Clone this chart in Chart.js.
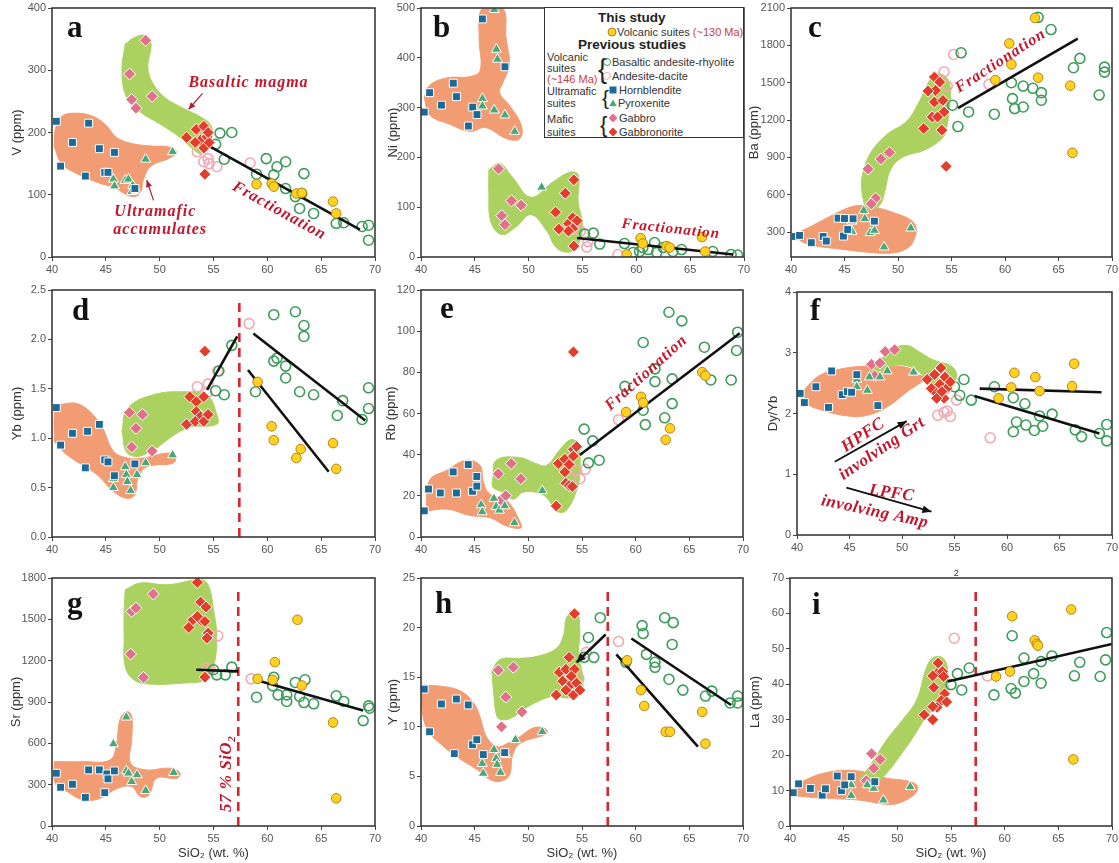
<!DOCTYPE html>
<html>
<head>
<meta charset="utf-8">
<script src="https://cdn.jsdelivr.net/npm/chart.js@4.4.1/dist/chart.umd.min.js"></script>
<style>
  body { margin: 0; background: #fff; }
  #wrap { position: relative; width: 1119px; height: 863px; overflow: hidden; font-family: Arial, "Liberation Sans", sans-serif; }
  #wrap canvas { position: absolute; }
  #lbox { position: absolute; left: 544px; top: 7px; width: 200px; height: 131px; border: 1.5px solid #333; background: #fff; box-sizing: border-box; }
  .lt { position: absolute; white-space: nowrap; line-height: 1; transform: translateY(-50%); font-size: 11px; color: #333; }
  .hd { font-size: 13.5px; font-weight: bold; color: #222; }
  .br { font-weight: 300; color: #222; }
  .red { color: #c9413a; }
  .mk { position: absolute; transform: translate(-50%, -50%); box-sizing: border-box; }
</style>
</head>
<body>
<div id="wrap">
  <div id="lbox"></div>
  <div class="lt hd" style="left:598px;top:18px">This study</div>
  <div class="mk" style="left:612px;top:32px;width:9px;height:9px;border-radius:50%;background:#ffd21f;border:1px solid #b8801a"></div>
  <div class="lt" style="left:617px;top:32px">Volcanic suites <span class="red">(~130 Ma)</span></div>
  <div class="lt hd" style="left:578px;top:45px">Previous studies</div>
  <div class="lt" style="left:547px;top:57px">Volcanic</div>
  <div class="lt" style="left:547px;top:68px">suites</div>
  <div class="lt red" style="left:547px;top:79px">(~146 Ma)</div>
  <div class="lt br" style="left:598px;top:69px;font-size:27px">{</div>
  <div class="mk" style="left:607px;top:62px;width:8px;height:8px;border-radius:50%;border:1.3px solid #3c9c5a"></div>
  <div class="lt" style="left:612px;top:62px">Basaltic andesite-rhyolite</div>
  <div class="mk" style="left:607px;top:76px;width:8px;height:8px;border-radius:50%;border:1.3px solid #f2a9b3"></div>
  <div class="lt" style="left:612px;top:76px">Andesite-dacite</div>
  <div class="lt" style="left:547px;top:91px">Ultramafic</div>
  <div class="lt" style="left:547px;top:103px">suites</div>
  <div class="lt br" style="left:602px;top:97px;font-size:21px">{</div>
  <div class="mk" style="left:613px;top:90px;width:7px;height:7px;background:#1b6a98"></div>
  <div class="lt" style="left:619px;top:90px">Hornblendite</div>
  <div class="mk" style="left:613px;top:103px;width:8px;height:7px;background:#47a97a;clip-path:polygon(50% 0,100% 100%,0 100%)"></div>
  <div class="lt" style="left:618px;top:103px">Pyroxenite</div>
  <div class="lt" style="left:547px;top:119px">Mafic</div>
  <div class="lt" style="left:547px;top:132px">suites</div>
  <div class="lt br" style="left:600px;top:125px;font-size:22px">{</div>
  <div class="mk" style="left:613px;top:118px;width:9px;height:9px;background:#e3708a;clip-path:polygon(50% 0,100% 50%,50% 100%,0 50%)"></div>
  <div class="lt" style="left:619px;top:118px">Gabbro</div>
  <div class="mk" style="left:613px;top:132px;width:9px;height:9px;background:#e33d2b;clip-path:polygon(50% 0,100% 50%,50% 100%,0 50%)"></div>
  <div class="lt" style="left:619px;top:132px">Gabbronorite</div>
</div>
<script>
// ---------- data: [SiO2, value] pairs ----------
// panel a  V (ppm)
const aVolc = [[59.0,117],[60.4,118],[60.6,113],[62.7,102],[63.2,103],[66.1,89],[66.4,70]];
const aBar = [[55.2,181],[55.6,199],[56.0,157],[56.7,200],[59.0,133],[59.9,158],[60.9,145],[61.7,153],[60.6,132],[61.7,110],[63.4,134],[62.6,97],[63.0,78],[63.2,102],[64.3,70],[66.4,54],[67.1,55],[68.8,49],[69.4,51],[69.4,27]];
const aAd = [[53.5,169],[54.1,153],[54.5,158],[54.6,150],[55.3,145],[58.4,151]];
const aHbl = [[40.4,218],[40.8,146],[41.9,184],[43.1,130],[43.4,215],[44.4,174],[44.9,136],[45.2,136],[45.8,168],[47.7,110]];
const aPyx = [[48.7,157],[51.2,169],[45.7,125],[45.8,114],[46.8,123],[47.1,125],[47.4,105],[47.8,107],[47.5,115]];
const aGab = [[48.7,348],[47.2,294],[47.4,253],[47.8,239],[49.3,258]];
const aGbn = [[52.5,192],[53.4,205],[54.1,210],[53.8,188],[53.3,184],[54.4,193],[54.1,175],[54.6,184],[54.5,200],[54.2,133]];
const aTrend = [[54.1,183],[68.6,44]];
const aOrange = [[40.2,177],[40.3,205],[40.9,226],[42.3,231],[43.8,226],[45,212],[46,192],[47.5,182],[49.5,178],[50.8,177],[51.6,168],[50.8,158],[49.2,146],[48.5,125],[48.2,103],[47.4,97],[45.7,112],[44.5,118],[42.3,134],[40.9,150]];
const aGreen = [[46.8,342],[47.6,352],[48.6,356],[49.2,343],[48.9,305],[49.4,278],[50.5,256],[52.3,238],[53.8,225],[54.8,210],[54.7,186],[53.9,166],[53.2,172],[51.9,192],[50,214],[48.2,233],[46.9,258],[46.5,300]];

// panel b  Ni (ppm)
const bVolc = [[59.1,5],[60.4,38],[60.6,27],[62.8,22],[63.1,19],[66.1,40],[66.4,11]];
const bBar = [[55.2,46],[56.0,48],[56.6,26],[58.9,27],[59.7,9],[60.3,11],[60.6,19],[61.1,15],[61.7,29],[61.9,9],[62.5,19],[63.4,11],[64.2,15],[67.1,11],[68.8,5],[69.4,4]];
const bAd = [[54.8,52],[55.4,20],[55.5,31],[58.3,5]];
const bHbl = [[40.3,291],[40.8,330],[41.9,305],[43.0,349],[43.3,322],[44.4,263],[44.8,301],[45.2,286],[45.7,478],[47.8,382]];
const bPyx = [[46.8,497],[47.0,417],[47.1,397],[45.7,318],[45.7,303],[46.8,295],[47.8,285],[48.7,252],[51.2,140]];
const bGab = [[47.2,177],[47.5,83],[47.8,65],[48.4,113],[49.3,104]];
const bGbn = [[52.5,90],[53.4,128],[54.2,155],[52.8,56],[53.7,67],[54.1,79],[54.5,73],[54.1,57],[54.2,22],[53.7,52]];
const bTrend = [[54.5,38],[69.0,5]];
const bOrange = [[40.3,320],[40.8,345],[42.5,360],[44.5,362],[45.5,375],[45.4,440],[45.7,500],[47.6,500],[47.9,440],[48.2,385],[47.6,350],[47.3,330],[48.2,305],[49.3,265],[49.2,238],[48,237],[46,260],[44.6,252],[42.5,268],[40.8,285]];
const bGreen = [[46.3,175],[47.3,188],[48.5,160],[50.2,120],[52.2,150],[53.8,170],[54.6,165],[54.6,110],[55,65],[54.6,25],[53.8,10],[52.6,18],[51.6,55],[50.2,85],[48.8,60],[47.5,45],[46.5,70],[46.3,130]];

// panel c  Ba (ppm)
const cVolc = [[62.8,2020],[60.4,1815],[60.6,1647],[59.1,1521],[63.1,1540],[66.1,1476],[66.3,937]];
const cBar = [[55.9,1740],[55.1,1319],[55.6,1148],[56.6,1265],[59.0,1247],[60.6,1500],[60.7,1372],[60.9,1292],[61.7,1473],[61.7,1305],[62.6,1455],[63.4,1420],[63.4,1359],[63.1,2025],[64.3,1927],[66.4,1620],[67.0,1695],[68.8,1401],[69.3,1625],[69.3,1585]];
const cAd = [[55.2,1727],[54.3,1588],[54.6,1473],[58.5,1487]];
const cHbl = [[40.4,265],[40.8,273],[41.9,215],[43.0,265],[43.3,228],[44.4,412],[44.9,268],[45.0,409],[45.3,321],[45.8,407],[47.8,388]];
const cPyx = [[46.8,473],[46.9,407],[45.7,388],[45.7,305],[47.4,295],[47.8,313],[48.7,180],[51.2,332]];
const cGab = [[47.2,807],[47.9,572],[47.5,527],[48.4,887],[49.2,940]];
const cGbn = [[53.4,1545],[53.9,1505],[53.5,1438],[52.8,1433],[53.4,1345],[54.2,1358],[54.3,1265],[53.2,1225],[53.7,1225],[52.4,1132],[54.1,1119],[54.5,828]];
const cTrend = [[55.6,1295],[66.8,1855]];
const cOrange = [[40.4,287],[41.5,330],[43.5,420],[45.2,490],[46.3,513],[47.8,500],[49.8,450],[51.3,390],[51.7,327],[51.4,220],[50.8,167],[49.5,132],[47,140],[44.5,165],[42.1,193],[40.8,235]];
const cGreen = [[46.9,500],[46.6,650],[46.7,767],[47.4,930],[48.9,1080],[50.8,1190],[52,1350],[52.9,1510],[53.6,1570],[54.5,1545],[54.9,1450],[54.8,1300],[54.5,1120],[54.1,1050],[52.5,960],[50.4,900],[49.3,800],[48.8,640],[48.4,530],[47.6,480]];
const cTicks = [300,600,900,1200,1500,1800,2100];

// panel d  Yb (ppm)
const dVolc = [[59.1,1.57],[60.4,1.12],[60.6,0.98],[62.7,0.80],[63.1,0.89],[66.1,0.95],[66.4,0.69]];
const dBar = [[55.2,1.48],[56.0,1.44],[55.5,1.68],[56.7,1.94],[58.9,1.47],[60.6,2.25],[62.6,2.28],[63.4,2.14],[63.4,2.03],[60.6,1.78],[60.9,1.81],[61.7,1.73],[61.7,1.61],[63.0,1.47],[64.3,1.44],[67.0,1.38],[66.5,1.23],[68.8,1.19],[69.4,1.51],[69.4,1.30]];
const dAd = [[53.5,1.52],[54.5,1.55],[54.4,1.46],[55.4,1.68],[58.3,2.16]];
const dHbl = [[40.4,1.31],[40.8,0.93],[41.9,1.05],[43.1,0.70],[43.3,1.07],[44.4,1.14],[44.9,0.78],[45.2,0.76],[45.8,0.62],[47.7,0.74]];
const dPyx = [[45.7,0.59],[45.7,0.50],[46.8,0.71],[46.9,0.63],[47.0,0.56],[47.3,0.47],[47.9,0.63],[48.7,0.75],[51.2,0.83]];
const dGab = [[47.2,1.26],[48.4,1.24],[47.8,1.10],[47.4,0.91],[49.3,0.87]];
const dGbn = [[52.8,1.42],[53.4,1.37],[54.1,1.42],[53.4,1.27],[53.8,1.22],[52.5,1.14],[53.3,1.17],[54.1,1.17],[54.5,1.24],[54.2,1.88]];
const dTrend1 = [[54.4,1.49],[57.2,2.03]];
const dTrend2 = [[58.7,2.06],[69.1,1.18]];
const dTrend3 = [[58.2,1.69],[65.7,0.66]];
const dLimit = [[57.4,0],[57.4,2.38]];
const dOrange = [[40.2,0.97],[40.3,1.3],[40.8,1.34],[42.6,1.34],[44.5,1.14],[45.7,0.87],[47,0.8],[48.5,0.80],[50.7,0.85],[51.4,0.82],[51.3,0.75],[48.8,0.71],[48,0.6],[47.7,0.43],[47,0.39],[45.7,0.46],[44.2,0.63],[41.4,0.83]];
const dGreen = [[46.5,1.07],[47,1.30],[49.4,1.44],[52.5,1.47],[54.4,1.44],[55.3,1.24],[55.3,1.14],[52.5,1.10],[48.5,0.83],[47,0.85]];

// panel e  Rb (ppm)
const eVolc = [[59.1,60.7],[60.5,68.1],[60.7,65.3],[62.8,47.2],[63.2,52.8],[66.2,80.1],[66.5,78.4]];
const eBar = [[55.2,52.4],[56.0,46.7],[55.6,36.0],[56.6,37.3],[59.0,73.2],[60.7,94.5],[60.7,61.6],[60.9,54.6],[61.8,81.7],[61.8,75.5],[63.1,109.2],[64.3,105.0],[63.4,64.8],[63.4,76.8],[62.7,57.9],[66.4,92.2],[67.0,76.3],[68.9,76.3],[69.5,99.5],[69.4,90.6]];
const eAd = [[54.5,32.4],[55.3,32.9],[54.8,28.3],[58.4,57.0]];
const eHbl = [[40.3,12.7],[40.7,23.3],[41.8,21.4],[43.0,31.6],[43.3,21.4],[44.4,35.2],[44.8,22.2],[45.2,29.4],[45.2,24.7]];
const ePyx = [[45.6,15.6],[45.7,12.2],[46.8,18.7],[47.0,14.8],[47.3,13.0],[47.8,15.1],[48.7,6.9],[51.3,22.5]];
const eGab = [[47.2,30.7],[48.4,35.7],[49.3,28.3],[47.4,17.9],[47.9,20.1]];
const eGbn = [[52.8,35.7],[53.4,37.8],[53.4,31.6],[53.8,35.2],[54.2,42.6],[54.5,43.9],[54.2,39.3],[53.5,26.1],[53.8,25.0],[54.1,24.5],[52.6,15.1],[54.2,89.9]];
const eTrend = [[54.8,39.8],[69.7,99.0]];
const eOrange = [[40.5,12.7],[40.8,27.5],[42.4,32.4],[44.2,37.3],[45.5,34.8],[45.8,27],[46.4,20.9],[48,17.6],[49.2,7.7],[49.3,4.4],[48,5.3],[46.4,9.4],[44.5,10.5],[42.5,13.5]];
const eGreen = [[46.7,29],[47.0,37.3],[49.2,38.6],[50.7,35.7],[51.7,34.8],[52.9,42.2],[53.9,47.2],[54.6,45.9],[54.8,40.6],[54.8,32.4],[54.6,24.2],[53.5,12.7],[52.6,12.7],[51.7,19.2],[50.7,21.7],[49.5,21.7],[48.6,18.4],[47.5,22],[46.7,24.2]];

// panel f  Dy/Yb
const fVolc = [[59.2,2.25],[60.4,2.43],[60.7,2.67],[62.7,2.60],[63.1,2.37],[66.2,2.45],[66.4,2.82]];
const fBar = [[55.0,2.44],[55.9,2.56],[55.5,2.30],[56.6,2.22],[58.8,2.44],[60.6,2.26],[60.6,1.70],[61.7,2.16],[60.9,1.86],[61.8,1.81],[62.6,1.72],[63.1,1.96],[63.4,1.79],[64.3,1.99],[66.5,1.73],[67.1,1.62],[68.8,1.67],[69.5,1.82],[69.5,1.55]];
const fAd = [[53.4,1.97],[54.3,2.04],[54.6,1.95],[54.0,2.02],[55.2,2.22],[58.4,1.60]];
const fHbl = [[40.3,2.33],[40.7,2.18],[41.8,2.44],[43.3,2.70],[43.0,2.10],[44.3,2.31],[44.8,2.36],[45.2,2.35],[45.7,2.64],[47.7,2.13]];
const fPyx = [[45.7,2.56],[45.7,2.44],[46.7,2.38],[46.9,2.60],[47.9,2.60],[48.6,2.70],[51.1,2.68]];
const fGab = [[47.1,2.81],[47.9,2.83],[47.4,2.62],[48.4,3.02],[49.3,3.05]];
const fGbn = [[53.7,2.75],[52.4,2.56],[53.1,2.64],[54.1,2.60],[53.6,2.48],[52.8,2.41],[54.3,2.42],[53.3,2.33],[54.0,2.25],[53.3,2.25],[54.6,2.52],[53.8,2.36]];
const fTrend1 = [[57.4,2.41],[69.0,2.35]];
const fTrend2 = [[56.9,2.29],[68.8,1.67]];
const fOrange = [[40.5,2.36],[42.2,2.63],[44.4,2.74],[46.7,2.78],[49.2,2.78],[50.8,2.74],[51.7,2.63],[52.4,2.60],[50.5,2.36],[48.6,2.11],[46.7,1.97],[44.8,1.96],[42.5,2.05],[41,2.16]];
const fGreen = [[47.1,2.71],[47.9,2.88],[49.2,3.07],[50.5,3.12],[51.7,3.01],[53.0,2.88],[54.6,2.79],[55.2,2.66],[55.0,2.52],[54.2,2.3],[53.2,2.45],[52,2.63],[50.8,2.77],[49.2,2.79],[47.6,2.68]];

// panel g  Sr (ppm)
const gVolc = [[59.1,1068],[60.5,1061],[60.7,1189],[62.8,1497],[63.2,1020],[66.1,751],[66.4,201]];
const gBar = [[55.0,1134],[55.3,1097],[56.1,1097],[56.7,1153],[59.0,935],[60.6,1080],[60.5,1017],[61.0,952],[61.8,904],[61.8,952],[62.6,1042],[63.0,940],[63.4,896],[63.5,1061],[64.3,887],[66.4,945],[67.1,904],[68.9,765],[69.4,872],[69.5,855]];
const gAd = [[55.4,1381],[54.4,1146],[54.7,1134],[58.5,1068]];
const gHbl = [[40.4,383],[40.8,281],[41.9,303],[43.1,208],[43.4,407],[44.4,407],[45.1,378],[45.2,342],[44.9,242],[45.8,400]];
const gPyx = [[46.9,790],[45.7,596],[46.9,400],[47.1,383],[47.4,322],[47.9,371],[48.7,257],[51.3,388]];
const gGab = [[47.4,1558],[47.8,1582],[49.4,1684],[47.3,1248],[48.5,1078]];
const gGbn = [[53.5,1768],[53.8,1625],[54.3,1589],[52.7,1441],[53.1,1497],[53.8,1497],[54.2,1485],[54.5,1400],[54.4,1364],[54.2,1080],[53.5,1521]];
const gTrend1 = [[53.4,1134],[57.3,1122]];
const gTrend2 = [[59.2,1054],[68.9,838]];
const gLimit = [[57.3,0],[57.3,1710]];
const gOrange = [[40.2,467],[42.9,467],[45.4,480],[46,600],[46.3,770],[46.96,831],[47.4,795],[47.4,625],[47.3,455],[48.8,407],[50.4,419],[51.3,414],[51.9,383],[51.6,346],[49.7,346],[49,225],[48.2,213],[47.4,286],[46,270],[44.5,201],[42.9,189],[41.4,250],[40.3,310]];
const gGreen = [[46.8,1715],[48.2,1764],[50.7,1751],[53.8,1788],[54.5,1751],[55,1570],[55.3,1376],[55,1158],[54.2,1061],[52.2,1037],[49.1,1030],[47.6,1061],[46.8,1158],[46.7,1376],[46.7,1570]];

// panel h  Y (ppm)
const hVolc = [[59.2,16.7],[60.5,13.7],[60.8,12.1],[62.8,9.5],[63.2,9.5],[66.2,11.5],[66.5,8.3]];
const hBar = [[55.6,19.0],[56.1,17.0],[55.2,17.0],[56.7,21.0],[59.1,16.5],[60.6,20.2],[60.7,19.4],[61.0,17.3],[61.8,16.5],[61.8,16.0],[62.7,21.0],[63.5,20.5],[63.4,18.3],[63.1,14.8],[64.4,13.7],[66.5,13.1],[67.1,13.6],[68.8,12.4],[69.5,13.1],[69.5,12.4]];
const hAd = [[55.4,17.5],[58.4,18.6],[54.7,14.9]];
const hHbl = [[40.3,13.8],[40.8,9.5],[41.9,12.3],[43.1,7.3],[43.3,12.8],[44.4,12.2],[44.8,8.2],[45.2,8.7],[45.8,7.2],[47.8,7.4]];
const hPyx = [[45.7,6.3],[45.8,5.3],[46.8,7.7],[47.0,6.8],[47.1,6.2],[47.4,5.4],[47.9,7.2],[48.8,8.7],[51.3,9.5]];
const hGab = [[47.2,15.7],[48.6,16.0],[47.9,13.0],[49.4,11.5],[47.5,10.0]];
const hGbn = [[54.3,21.4],[53.8,17.0],[52.9,15.5],[53.5,15.8],[54.3,15.8],[54.0,15.1],[53.2,14.6],[53.8,14.1],[54.5,14.4],[53.5,13.7],[52.6,13.2],[54.2,13.2],[54.8,13.7]];
const hTrend1 = [[57.2,19.3],[54.5,16.5]];
const hTrend2 = [[59.6,18.9],[68.9,12.2]];
const hTrend3 = [[58.2,17.3],[65.8,8.0]];
const hLimit = [[57.4,0],[57.4,23.75]];
const hOrange = [[40.1,14.2],[41.8,14.1],[43.7,13.6],[44.9,12.4],[45.5,11.0],[46.1,9.0],[47.1,8.0],[48.0,8.3],[49.2,9.0],[50.5,9.9],[51.6,9.8],[51.7,9.3],[49.2,8.3],[48.5,7.0],[48.3,5.3],[47.7,4.6],[46.6,4.6],[45.2,5.7],[43.3,7.0],[41.8,8.3],[40.6,9.7],[40.1,11.8]];
const hGreen = [[46.6,15.7],[47.4,16.8],[49.2,16.9],[50.8,17.1],[52.6,17.9],[53.3,19.3],[53.6,21.1],[54.5,21.5],[54.8,19.8],[54.7,17.3],[55.1,14.7],[54.8,13.4],[53.6,12.9],[52.3,13.1],[49.9,12.0],[48.6,11.0],[47.7,10.7],[47.1,11.0],[46.8,13.1]];

// panel i  La (ppm)
const iVolc = [[59.2,42.2],[60.5,43.6],[60.7,59.2],[62.8,52.4],[63.0,51.4],[63.1,50.9],[66.2,61.1],[66.4,18.8]];
const iBar = [[55.0,39.9],[55.6,43.0],[56.0,38.4],[56.7,44.6],[59.0,37.0],[60.6,38.8],[61.0,37.5],[60.7,53.7],[61.8,47.4],[61.8,40.8],[62.7,43.0],[63.4,46.4],[63.4,40.3],[64.4,48.0],[66.5,42.4],[67.0,46.2],[68.9,42.2],[69.5,54.6],[69.4,46.9]];
const iAd = [[55.3,53.0],[58.4,42.4],[54.3,38.9]];
const iHbl = [[40.3,9.4],[40.8,11.9],[41.9,10.6],[43.0,8.7],[43.3,10.5],[44.4,14.1],[44.8,10.0],[45.1,11.6],[45.7,13.9],[47.9,12.5]];
const iPyx = [[45.7,11.6],[45.7,8.6],[47.2,11.6],[47.8,10.6],[48.7,7.3],[51.2,11.1]];
const iGab = [[47.1,12.8],[47.8,16.3],[47.6,20.4],[48.4,18.8]];
const iGbn = [[53.8,43.4],[53.3,42.4],[53.8,46.0],[54.2,43.6],[54.3,42.2],[53.4,39.1],[54.4,37.3],[54.1,35.4],[53.7,33.5],[53.3,33.7],[52.5,31.4],[53.3,30.0],[54.6,35.0]];
const iTrend = [[54.7,40.8],[70,51.4]];
const iLimit = [[57.3,0],[57.3,66.5]];
const iOrange = [[40.2,9.7],[40.9,12.1],[43.4,15.1],[46.2,15.6],[49,13.5],[50.8,12.8],[51.8,11.6],[51.8,9.7],[50.8,7.3],[49.3,6.1],[46.5,7.3],[43.4,7.8],[41.2,8.3],[40.2,8.8]];
const iGreen = [[46.5,13.5],[47.4,16.8],[49,24.3],[50.5,30.0],[51.8,35.6],[52.7,44.6],[53.3,47.4],[54.1,47.7],[54.6,45.5],[54.7,41.3],[54.6,38.4],[53.9,34.7],[52.7,30.9],[51.5,25.2],[50.2,19.6],[49,14.9],[47.9,12.1]];

// ---------- styles ----------
const RED = '#c3162d';
const ORANGE = '#f29c74';
const GREEN = '#abd260';
const STY = {
  volc: { ps: 'circle', r: 4.8, bg: '#ffd21f', bc: '#b8801a', bw: 1, order: 1 },
  bar: { ps: 'circle', r: 5, bg: 'rgba(0,0,0,0)', bc: '#3c9c5a', bw: 1.6, order: 4 },
  ad: { ps: 'circle', r: 5, bg: 'rgba(0,0,0,0)', bc: '#f2a9b3', bw: 1.6, order: 4 },
  hbl: { ps: 'rect', r: 5.6, bg: '#1b6a98', bc: '#ffffff', bw: 1, order: 2 },
  pyx: { ps: 'triangle', r: 5.8, bg: '#47a97a', bc: '#ffffff', bw: 1, order: 2 },
  gab: { ps: 'rectRot', r: 6, bg: '#e3708a', bc: '#ffffff', bw: 1, order: 2 },
  gbn: { ps: 'rectRot', r: 6, bg: '#e33d2b', bc: '#ffffff', bw: 1, order: 2 }
};

Chart.defaults.font.family = 'Arial, "Liberation Sans", sans-serif';

const pts = a => a.map(([x, y]) => ({ x, y }));
function series(a, s) {
  return { data: pts(a), pointStyle: s.ps, pointRadius: s.r, pointBackgroundColor: s.bg,
    pointBorderColor: s.bc, pointBorderWidth: s.bw, showLine: false, order: s.order };
}
function field(a, color, order) {
  return { data: pts(a.concat([a[0]])), showLine: true, fill: 'shape', backgroundColor: color,
    borderColor: color, borderWidth: 1, pointRadius: 0, tension: 0.4, order };
}
function trend(a) {
  return { data: pts(a), showLine: true, borderColor: '#111', borderWidth: 2.6, pointRadius: 0, order: 3 };
}
function limit(a) {
  return { data: pts(a), showLine: true, borderColor: '#d8262e', borderWidth: 2.6, borderDash: [9, 6], pointRadius: 0, order: 5 };
}
function groups(v, b, ad, h, p, g, n, orange, green) {
  return [series(v, STY.volc), series(b, STY.bar), series(ad, STY.ad), series(h, STY.hbl),
    series(p, STY.pyx), series(g, STY.gab), series(n, STY.gbn), field(green, GREEN, 20), field(orange, ORANGE, 21)];
}

// text, arrows and frame drawn at data coordinates
const notesPlugin = {
  id: 'notes',
  afterDatasetsDraw(chart, args, opts) {
    const { ctx, chartArea: ca, scales } = chart;
    const X = v => scales.x.getPixelForValue(v), Y = v => scales.y.getPixelForValue(v);
    for (const it of (opts.items || [])) {
      ctx.save();
      if (it.t === 'letter') {
        ctx.font = 'bold 31px "Liberation Serif", "Times New Roman", serif';
        ctx.fillStyle = '#111';
        ctx.fillText(it.text, ca.left + it.dx, ca.top + it.dy);
      } else if (it.t === 'text') {
        ctx.translate(X(it.x), Y(it.y) + (it.dy || 0));
        ctx.rotate((it.rot || 0) * Math.PI / 180);
        const main = it.font || `italic bold ${it.size || 17}px "Liberation Serif", "Times New Roman", serif`;
        const subF = `italic bold ${Math.round((it.size || 17) * 0.65)}px "Liberation Serif", serif`;
        ctx.letterSpacing = (it.ls || 0) + 'px';
        ctx.fillStyle = it.color || RED;
        ctx.textBaseline = 'middle';
        ctx.textAlign = 'left';
        ctx.font = main;
        const w1 = ctx.measureText(it.text).width;
        let w2 = 0;
        if (it.sub) { ctx.font = subF; w2 = ctx.measureText(it.sub).width; ctx.font = main; }
        const x0 = -(w1 + w2) / 2;
        ctx.fillText(it.text, x0, 0);
        if (it.sub) { ctx.font = subF; ctx.fillText(it.sub, x0 + w1, 5); }
      } else if (it.t === 'arrow' || it.t === 'head') {
        const x1 = X(it.from[0]), y1 = Y(it.from[1]), x2 = X(it.to[0]), y2 = Y(it.to[1]);
        ctx.strokeStyle = ctx.fillStyle = it.color || '#111';
        ctx.lineWidth = it.w || 1.5;
        if (it.t === 'arrow') { ctx.beginPath(); ctx.moveTo(x1, y1); ctx.lineTo(x2, y2); ctx.stroke(); }
        const a = Math.atan2(y2 - y1, x2 - x1), L = it.hl || 9, H = it.hw || 3.8;
        ctx.beginPath();
        ctx.moveTo(x2, y2);
        ctx.lineTo(x2 - L * Math.cos(a) + H * Math.sin(a), y2 - L * Math.sin(a) - H * Math.cos(a));
        ctx.lineTo(x2 - L * Math.cos(a) - H * Math.sin(a), y2 - L * Math.sin(a) + H * Math.cos(a));
        ctx.closePath();
        ctx.fill();
      }
      ctx.restore();
    }
    ctx.save();
    ctx.strokeStyle = '#3a3a3a';
    ctx.lineWidth = 1.6;
    ctx.strokeRect(ca.left, ca.top, ca.right - ca.left, ca.bottom - ca.top);
    ctx.restore();
  }
};

const FRAC = { t: 'text', text: 'Fractionation', size: 16, ls: 1 };

const PANELS = [
  { cx: 0, cy: 0, cw: 392, ch: 280, L: 52, R: 375, T: 8, B: 257, ymin: 0, ymax: 400, step: 100, yt: 'V (ppm)', tx: 17,
    ds: [...groups(aVolc, aBar, aAd, aHbl, aPyx, aGab, aGbn, aOrange, aGreen), trend(aTrend)],
    notes: [{ t: 'letter', text: 'a', dx: 15, dy: 29 },
      { t: 'text', text: 'Basaltic magma', x: 58.25, y: 279, size: 16, ls: 1 },
      { t: 'text', text: 'Ultramafic', x: 49.6, y: 72.5, size: 16, ls: 1 },
      { t: 'text', text: 'accumulates', x: 50.05, y: 44, size: 16, ls: 1 },
      { ...FRAC, x: 61.1, y: 74, rot: 29 },
      { t: 'arrow', from: [53.98, 263], to: [52.68, 237], color: '#b01c2e', w: 1.2, hl: 7, hw: 3 },
      { t: 'arrow', from: [49.43, 91], to: [48.8, 123.5], color: '#b01c2e', w: 1.2, hl: 7, hw: 3 }] },
  { cx: 380, cy: 0, cw: 380, ch: 280, L: 421, R: 744, T: 8, B: 257, ymin: 0, ymax: 500, step: 100, yt: 'Ni (ppm)', tx: 393,
    ds: [...groups(bVolc, bBar, bAd, bHbl, bPyx, bGab, bGbn, bOrange, bGreen), trend(bTrend)],
    notes: [{ t: 'letter', text: 'b', dx: 12, dy: 29 }, { ...FRAC, size: 15, x: 63.2, y: 56, rot: 6 }] },
  { cx: 745, cy: 0, cw: 374, ch: 280, L: 791, R: 1113, T: 8, B: 257, ymin: 100, ymax: 2100, step: 300, ticks: cTicks, yt: 'Ba (ppm)', tx: 754,
    ds: [...groups(cVolc, cBar, cAd, cHbl, cPyx, cGab, cGbn, cOrange, cGreen), trend(cTrend)],
    notes: [{ t: 'letter', text: 'c', dx: 17, dy: 29 }, { ...FRAC, x: 59.6, y: 1674, rot: -33 }] },

  { cx: 0, cy: 280, cw: 392, ch: 285, L: 52, R: 375, T: 290, B: 537, ymin: 0, ymax: 2.5, step: 0.5, dec: 1, yt: 'Yb (ppm)', tx: 17,
    ds: [...groups(dVolc, dBar, dAd, dHbl, dPyx, dGab, dGbn, dOrange, dGreen), trend(dTrend1), trend(dTrend2), trend(dTrend3), limit(dLimit)],
    notes: [{ t: 'letter', text: 'd', dx: 20, dy: 30 }] },
  { cx: 380, cy: 280, cw: 380, ch: 285, L: 421, R: 743, T: 290, B: 537, ymin: 0, ymax: 120, step: 20, yt: 'Rb (ppm)', tx: 391,
    ds: [...groups(eVolc, eBar, eAd, eHbl, ePyx, eGab, eGbn, eOrange, eGreen), trend(eTrend)],
    notes: [{ t: 'letter', text: 'e', dx: 19, dy: 28 }, { ...FRAC, x: 61.0, y: 79.7, rot: -42 }] },
  { cx: 745, cy: 280, cw: 374, ch: 285, L: 797, R: 1112, T: 292, B: 535, ymin: 0, ymax: 4, step: 1, yt: 'Dy/Yb', tx: 773,
    ds: [...groups(fVolc, fBar, fAd, fHbl, fPyx, fGab, fGbn, fOrange, fGreen), trend(fTrend1), trend(fTrend2)],
    notes: [{ t: 'letter', text: 'f', dx: 13, dy: 28 },
      { t: 'text', text: 'HPFC', x: 46.3, y: 1.64, rot: -34, size: 17, ls: 0.5 },
      { t: 'text', text: 'involving Grt', x: 48.1, y: 1.42, rot: -34, size: 17, ls: 0.5 },
      { t: 'text', text: 'LPFC', x: 49.0, y: 0.685, rot: 8, size: 17, ls: 0.5 },
      { t: 'text', text: 'involving Amp', x: 47.4, y: 0.38, rot: 12, size: 17, ls: 0.5 },
      { t: 'arrow', from: [43.6, 1.205], to: [50.45, 1.874], w: 1.8 },
      { t: 'arrow', from: [44.7, 0.778], to: [52.8, 0.384], w: 1.8 }] },

  { cx: 0, cy: 565, cw: 392, ch: 298, L: 52, R: 375, T: 578, B: 826, ymin: 0, ymax: 1800, step: 300, yt: 'Sr (ppm)', tx: 16, xt: true,
    ds: [...groups(gVolc, gBar, gAd, gHbl, gPyx, gGab, gGbn, gOrange, gGreen), trend(gTrend1), trend(gTrend2), limit(gLimit)],
    notes: [{ t: 'letter', text: 'g', dx: 15, dy: 35 },
      { t: 'text', text: '57 % SiO', sub: '2', x: 56.24, y: 378, rot: -90, size: 17, ls: 0.5 }] },
  { cx: 380, cy: 565, cw: 380, ch: 298, L: 421, R: 743, T: 578, B: 826, ymin: 0, ymax: 25, step: 5, yt: 'Y (ppm)', tx: 393, xt: true,
    ds: [...groups(hVolc, hBar, hAd, hHbl, hPyx, hGab, hGbn, hOrange, hGreen), trend(hTrend1), trend(hTrend2), trend(hTrend3), limit(hLimit)],
    notes: [{ t: 'letter', text: 'h', dx: 14, dy: 35 }, { t: 'head', from: hTrend1[0], to: hTrend1[1], hl: 9, hw: 4 }] },
  { cx: 745, cy: 565, cw: 374, ch: 298, L: 790, R: 1113, T: 578, B: 826, ymin: 0, ymax: 70, step: 10, yt: 'La (ppm)', tx: 755, xt: true,
    ds: [...groups(iVolc, iBar, iAd, iHbl, iPyx, iGab, iGbn, iOrange, iGreen), trend(iTrend), limit(iLimit)],
    notes: [{ t: 'letter', text: 'i', dx: 22, dy: 36 },
      { t: 'text', text: '2', x: 55.5, y: 70, dy: -4, font: '9px Arial, "Liberation Sans", sans-serif', color: '#333' }] }
];

const wrap = document.getElementById('wrap');
const legendBox = document.getElementById('lbox');

PANELS.forEach(p => {
  const cv = document.createElement('canvas');
  cv.width = p.cw; cv.height = p.ch;
  cv.style.left = p.cx + 'px'; cv.style.top = p.cy + 'px';
  cv.style.width = p.cw + 'px'; cv.style.height = p.ch + 'px';
  wrap.insertBefore(cv, legendBox);

  const tickFont = { size: 11 };
  new Chart(cv, {
    type: 'scatter',
    data: { datasets: p.ds },
    options: {
      responsive: false,
      animation: false,
      devicePixelRatio: 1,
      events: [],
      layout: { padding: { left: 0, top: p.T - p.cy, right: p.cx + p.cw - p.R, bottom: 0 } },
      plugins: { legend: { display: false }, tooltip: { enabled: false }, notes: { items: p.notes } },
      scales: {
        x: {
          type: 'linear', min: 40, max: 70,
          ticks: { stepSize: 5, color: '#555', font: tickFont, padding: 2, maxRotation: 0 },
          grid: { display: true, drawOnChartArea: false, drawTicks: true, tickLength: 4, color: '#444' },
          border: { display: false },
          title: { display: !!p.xt, text: 'SiO₂ (wt. %)', color: '#333', font: { size: 13 }, padding: { top: 2, bottom: 2 } },
          afterFit(s) { s.height = p.cy + p.ch - p.B; s.paddingLeft = 0; s.paddingRight = 0; }
        },
        y: {
          type: 'linear', min: p.ymin, max: p.ymax,
          ticks: { stepSize: p.step, color: '#555', font: tickFont, padding: 2,
            callback: v => p.dec ? v.toFixed(p.dec) : v },
          afterBuildTicks: p.ticks ? (s => { s.ticks = p.ticks.map(v => ({ value: v })); }) : undefined,
          grid: { display: true, drawOnChartArea: false, drawTicks: true, tickLength: 4, color: '#444' },
          border: { display: false },
          title: { display: true, text: p.yt, color: '#333', font: { size: 13 },
            padding: { top: Math.max(0, p.tx - p.cx - 7.8), bottom: 0 } },
          afterFit(s) { s.width = p.L - p.cx; s.paddingTop = 0; s.paddingBottom = 0; }
        }
      }
    },
    plugins: [notesPlugin]
  });
});
</script>
</body>
</html>
